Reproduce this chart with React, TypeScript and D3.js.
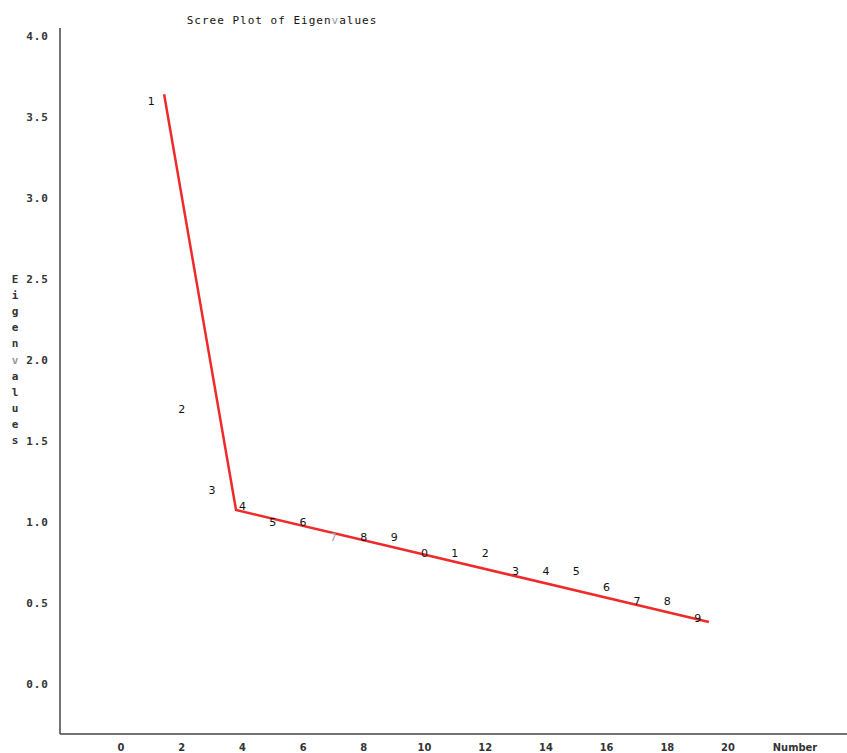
import React from "react";
import * as d3 from "d3";

const W = 847;
const H = 753;

const componentNumbers = [1, 2, 3, 4, 5, 6, 7, 8, 9, 10, 11, 12, 13, 14, 15, 16, 17, 18, 19];
const eigenvalues = [3.6, 1.7, 1.2, 1.1, 1.0, 1.0, 0.91, 0.91, 0.91, 0.81, 0.81, 0.81, 0.7, 0.7, 0.7, 0.6, 0.51, 0.51, 0.41];
const fitX = [1.42, 3.79, 19.37];
const fitY = [3.64, 1.074, 0.383];
const yTicks = [0, 0.5, 1.0, 1.5, 2.0, 2.5, 3.0, 3.5, 4.0];
const xTicks = [0, 2, 4, 6, 8, 10, 12, 14, 16, 18, 20];
const yTitle = "Eigenvalues";
const title = "Scree Plot of Eigenvalues";

export default function App() {
  const x = d3.scaleLinear().domain([0, 20]).range([121, 728]);
  const y = d3.scaleLinear().domain([0, 4]).range([684, 36]);
  const line = d3
    .line<number>()
    .x((_, i) => x(fitX[i]))
    .y((d) => y(d));
  const mono = "'DejaVu Sans Mono', monospace";
  return (
    <svg
      width={W}
      height={H}
      style={{ position: "absolute", left: 0, top: 0, background: "#fff" }}
    >
      {/* title */}
      <text x={282} y={24} textAnchor="middle" fontFamily={mono} fontSize={11} letterSpacing={1} fill="#111">
        {title.split("").map((c, i) => (
          <tspan key={i} fill={c === "v" ? "#999" : "#111"}>{c}</tspan>
        ))}
      </text>
      {/* axes */}
      <line x1={60} y1={28} x2={60} y2={734} stroke="#444" strokeWidth={1.5} />
      <line x1={60} y1={734} x2={W} y2={734} stroke="#444" strokeWidth={1.5} />
      {/* y ticks */}
      {yTicks.map((t) => (
        <text
          key={t}
          x={49}
          y={y(t) + 4}
          textAnchor="end"
          fontFamily={mono}
          fontSize={11}
          fontWeight="bold"
          letterSpacing={1}
          fill="#333"
        >
          {t.toFixed(1)}
        </text>
      ))}
      {/* y title stacked */}
      {yTitle.split("").map((c, i) => (
        <text
          key={i}
          x={15}
          y={y(2.5) + 4 + i * 16.1}
          textAnchor="middle"
          fontFamily={mono}
          fontSize={11}
          fontWeight="bold"
          fill={c === "v" ? "#999" : "#333"}
        >
          {c}
        </text>
      ))}
      {/* x ticks */}
      {xTicks.map((t) => (
        <text
          key={t}
          x={x(t)}
          y={751}
          textAnchor="middle"
          fontFamily="'DejaVu Sans Condensed', 'DejaVu Sans', sans-serif"
          fontSize={11}
          fontWeight="bold"
          fill="#333"
        >
          {t}
        </text>
      ))}
      <text
        x={795}
        y={751}
        textAnchor="middle"
        fontFamily="'DejaVu Sans Condensed', 'DejaVu Sans', sans-serif"
        fontSize={11}
        fontWeight="bold"
        fill="#333"
      >
        Number
      </text>
      {/* fitted line */}
      <path d={line(fitY) || ""} fill="none" stroke="#ee2a2a" strokeWidth={2.5} />
      {/* point labels */}
      {componentNumbers.map((n, i) => (
        <text
          key={n}
          x={x(n)}
          y={y(eigenvalues[i]) + 4}
          textAnchor="middle"
          fontFamily="'DejaVu Sans', sans-serif"
          fontSize={11}
          fill={n === 7 ? "#999" : "#111"}
        >
          {n % 10}
        </text>
      ))}
    </svg>
  );
}
